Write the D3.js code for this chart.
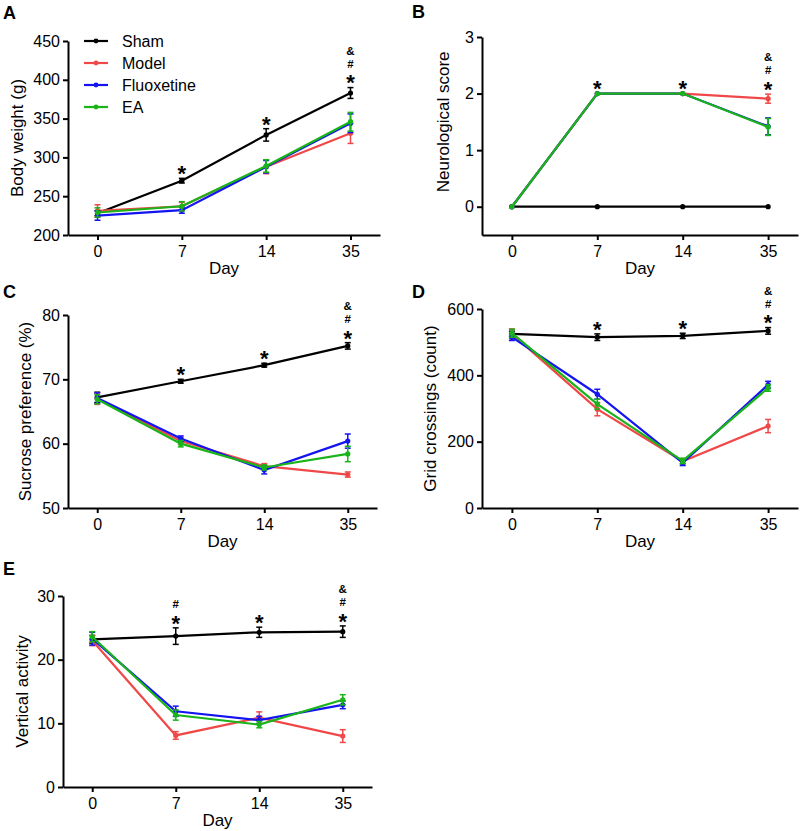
<!DOCTYPE html>
<html>
<head>
<meta charset="utf-8">
<script src="https://cdn.jsdelivr.net/npm/d3@7"></script>
<style>
  body { margin: 0; background: #fff; }
  svg { display: block; font-family: "Liberation Sans", Arial, sans-serif; }
</style>
</head>
<body>
<svg id="chart" width="800" height="831"></svg>
<script>
// days on the x axis, groups in drawing order
var days = ["0", "7", "14", "35"];
var groups = ["Sham", "Model", "Fluoxetine", "EA"];
var groupColors = ["#000000", "#f04848", "#1414f0", "#18b418"];

// A - body weight (g), rows follow groups
var weightMean = [[228, 270, 329, 383], [231, 237, 288, 331], [225, 232, 288, 344], [229, 237, 289, 346]];
var weightErr = [[3, 3, 8, 7], [8, 5, 9, 13], [6, 4, 8, 12], [6, 6, 8, 12]];
var weightTicks = [200, 250, 300, 350, 400, 450];
var weightMarks = ["", "*", "*", "*#&"];

// B - neurological score
var neuroMean = [[0, 0, 0, 0], [0, 2, 2, 1.91], [0, 2, 2, 1.42], [0, 2, 2, 1.41]];
var neuroErr = [[0, 0, 0, 0], [0, 0, 0, 0.08], [0, 0, 0, 0.15], [0, 0, 0, 0.15]];
var neuroTicks = [0, 1, 2, 3];
var neuroMarks = ["", "*", "*", "*#&"];

// C - sucrose preference (%)
var sucroseMean = [[67.2, 69.7, 72.2, 75.2], [67.0, 60.4, 56.5, 55.2], [67.1, 60.8, 55.9, 60.4], [66.9, 60.0, 56.3, 58.4]];
var sucroseErr = [[0.8, 0.3, 0.3, 0.5], [0.9, 0.5, 0.4, 0.4], [0.8, 0.4, 0.6, 1.1], [0.7, 0.5, 0.4, 1.2]];
var sucroseTicks = [50, 60, 70, 80];
var sucroseMarks = ["", "*", "*", "*#&"];

// D - grid crossings (count)
var gridMean = [[525, 515, 519, 534], [525, 298, 141, 247], [515, 343, 136, 372], [527, 313, 142, 362]];
var gridErr = [[8, 10, 8, 10], [15, 20, 8, 20], [10, 15, 8, 10], [12, 15, 8, 10]];
var gridTicks = [0, 200, 400, 600];
var gridMarks = ["", "*", "*", "*#&"];

// E - vertical activity
var verticalMean = [[23.2, 23.7, 24.3, 24.4], [23.0, 8.1, 10.9, 8.0], [23.3, 11.9, 10.5, 12.9], [23.6, 11.3, 9.8, 13.7]];
var verticalErr = [[0.6, 1.3, 0.8, 0.9], [0.8, 0.6, 0.9, 1.0], [1.0, 0.8, 0.6, 0.6], [0.8, 0.8, 0.5, 0.8]];
var verticalTicks = [0, 10, 20, 30];
var verticalMarks = ["", "*#", "*", "*#&"];

var panels = [
  { letter: "A", lx: 3, ly: 19, title: "Body weight (g)", tx: 23, mean: weightMean, err: weightErr, ticks: weightTicks, marks: weightMarks,
    domain: [200, 450], left: 68, right: 380, top: 41, bottom: 235, legend: true },
  { letter: "B", lx: 412, ly: 18, title: "Neurological score", tx: 449, mean: neuroMean, err: neuroErr, ticks: neuroTicks, marks: neuroMarks,
    domain: [-0.5, 3], left: 482, right: 798, top: 37, bottom: 235 },
  { letter: "C", lx: 3, ly: 298, title: "Sucrose preference (%)", tx: 31, mean: sucroseMean, err: sucroseErr, ticks: sucroseTicks, marks: sucroseMarks,
    domain: [50, 80], left: 68, right: 377, top: 315, bottom: 508 },
  { letter: "D", lx: 412, ly: 298, title: "Grid crossings (count)", tx: 436, mean: gridMean, err: gridErr, ticks: gridTicks, marks: gridMarks,
    domain: [0, 600], left: 482, right: 798, top: 309, bottom: 508 },
  { letter: "E", lx: 3, ly: 575, title: "Vertical activity", tx: 28, mean: verticalMean, err: verticalErr, ticks: verticalTicks, marks: verticalMarks,
    domain: [0, 30], left: 63, right: 372, top: 596, bottom: 787 }
];

var svg = d3.select("#chart");

panels.forEach(function(p) {
  var g = svg.append("g");

  var x = d3.scalePoint().domain(days).range([p.left, p.right]).padding(0.35);
  var y = d3.scaleLinear().domain(p.domain).range([p.bottom, p.top]);

  // axes
  var yAxis = g.append("g")
    .attr("transform", "translate(" + p.left + ",0)")
    .call(d3.axisLeft(y).tickValues(p.ticks).tickFormat(d3.format("d"))
      .tickSize(5).tickSizeOuter(0).tickPadding(3));
  var xAxis = g.append("g")
    .attr("transform", "translate(0," + p.bottom + ")")
    .call(d3.axisBottom(x).tickSize(5).tickSizeOuter(0).tickPadding(6));

  [yAxis, xAxis].forEach(function(a) {
    a.selectAll("path, line").attr("stroke", "#000").attr("stroke-width", 2);
    a.selectAll("text").attr("font-size", 16).attr("fill", "#000")
      .attr("font-family", "Liberation Sans, Arial, sans-serif");
  });

  // titles
  var tickMid = (y(p.ticks[0]) + y(p.ticks[p.ticks.length - 1])) / 2;
  g.append("text")
    .attr("transform", "translate(" + p.tx + "," + tickMid + ") rotate(-90)")
    .attr("text-anchor", "middle")
    .attr("font-size", 17)
    .text(p.title);
  g.append("text")
    .attr("x", (p.left + p.right) / 2)
    .attr("y", p.bottom + 39)
    .attr("text-anchor", "middle")
    .attr("font-size", 17)
    .text("Day");
  g.append("text")
    .attr("x", p.lx).attr("y", p.ly)
    .attr("font-size", 18).attr("font-weight", "bold")
    .text(p.letter);

  // series
  var line = d3.line().x(function(d, i) { return x(days[i]); }).y(function(d) { return y(d); });

  groups.forEach(function(name, gi) {
    var col = groupColors[gi];
    var vals = p.mean[gi];
    var errs = p.err[gi];
    var s = g.append("g");

    s.append("path")
      .datum(vals)
      .attr("d", line)
      .attr("fill", "none")
      .attr("stroke", col)
      .attr("stroke-width", 2.2);

    vals.forEach(function(v, i) {
      var e = errs[i];
      if (e <= 0) return;
      var cx = x(days[i]);
      var y0 = y(v - e), y1 = y(v + e);
      s.append("line").attr("x1", cx).attr("x2", cx).attr("y1", y0).attr("y2", y1)
        .attr("stroke", col).attr("stroke-width", 1.5);
      [y0, y1].forEach(function(yy) {
        s.append("line").attr("x1", cx - 3).attr("x2", cx + 3).attr("y1", yy).attr("y2", yy)
          .attr("stroke", col).attr("stroke-width", 1.5);
      });
    });

    s.selectAll("circle")
      .data(vals)
      .enter()
      .append("circle")
      .attr("cx", function(d, i) { return x(days[i]); })
      .attr("cy", function(d) { return y(d); })
      .attr("r", 2.6)
      .attr("fill", col);
  });

  // significance marks stacked above the highest error bar
  // (spaced so their text boxes just clear each other)
  var offsets = [10, 24, 37];
  p.marks.forEach(function(m, i) {
    if (!m) return;
    var topY = d3.min(groups, function(n, gi) { return y(p.mean[gi][i] + p.err[gi][i]); });
    m.split("").forEach(function(ch, k) {
      var cy = topY - offsets[k];
      var star = ch === "*";
      g.append("text")
        .attr("x", x(days[i]))
        .attr("y", star ? cy + 12.9 : cy + 4)
        .attr("text-anchor", "middle")
        .attr("font-size", star ? 22 : 11.5)
        .attr("font-weight", "bold")
        .text(ch);
    });
  });

  // legend
  if (p.legend) {
    groups.forEach(function(name, gi) {
      var ly = [41, 63, 85, 107][gi];
      g.append("line").attr("x1", 84).attr("x2", 108).attr("y1", ly).attr("y2", ly)
        .attr("stroke", groupColors[gi]).attr("stroke-width", 2.2);
      g.append("circle").attr("cx", 96).attr("cy", ly).attr("r", 2.4).attr("fill", groupColors[gi]);
      g.append("text").attr("x", 122).attr("y", ly + 6)
        .attr("font-size", 16).text(name);
    });
  }
});
</script>
</body>
</html>
